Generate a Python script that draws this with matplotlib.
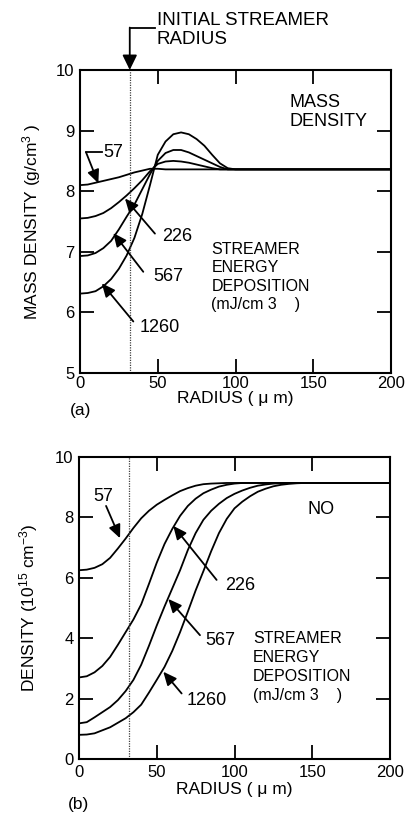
import matplotlib
matplotlib.use("Agg")
import matplotlib.pyplot as plt

plt.rcParams['font.family'] = ['Liberation Sans', 'DejaVu Sans']
plt.rcParams['mathtext.fontset'] = 'custom'
plt.rcParams['mathtext.rm'] = 'Liberation Sans'
plt.rcParams['mathtext.it'] = 'Liberation Sans'

# ---- (a) mass density profiles, radius in micrometres ----
radius_a = [0, 5, 10, 15, 20, 25, 30, 35, 40, 45, 50, 55, 60, 65, 70, 75, 80, 85, 90, 95, 100, 200]
mass_57 = [8.10, 8.11, 8.14, 8.17, 8.20, 8.23, 8.27, 8.31, 8.34, 8.37, 8.37, 8.36, 8.36, 8.36, 8.36,
           8.36, 8.36, 8.36, 8.36, 8.36, 8.36, 8.36]
mass_226 = [7.55, 7.56, 7.59, 7.64, 7.72, 7.82, 7.93, 8.05, 8.18, 8.33, 8.45, 8.49, 8.50, 8.49, 8.47,
            8.44, 8.41, 8.38, 8.36, 8.36, 8.36, 8.36]
mass_567 = [6.93, 6.94, 6.98, 7.06, 7.18, 7.37, 7.58, 7.78, 8.03, 8.28, 8.50, 8.63, 8.68, 8.68, 8.64,
            8.58, 8.52, 8.46, 8.40, 8.36, 8.36, 8.36]
mass_1260 = [6.31, 6.32, 6.35, 6.43, 6.55, 6.72, 6.94, 7.23, 7.62, 8.10, 8.60, 8.82, 8.94, 8.97, 8.94,
             8.86, 8.75, 8.60, 8.46, 8.38, 8.36, 8.36]

# ---- (b) NO density profiles (10^15 cm^-3) ----
radius_b = [0, 5, 10, 15, 20, 25, 30, 35, 40, 45, 50, 55, 60, 65, 70, 75, 80, 85, 90, 95, 100,
            105, 110, 115, 120, 125, 130, 135, 140, 145, 150, 200]
no_57 = [6.25, 6.27, 6.33, 6.45, 6.66, 6.97, 7.30, 7.65, 7.97, 8.22, 8.42, 8.58, 8.73, 8.87, 8.97,
         9.05, 9.10, 9.12, 9.13, 9.14, 9.14, 9.14, 9.14, 9.14, 9.14, 9.14, 9.14, 9.14, 9.14, 9.14,
         9.14, 9.14]
no_226 = [2.70, 2.74, 2.87, 3.08, 3.38, 3.78, 4.20, 4.62, 5.12, 5.80, 6.50, 7.12, 7.62, 8.05, 8.38,
          8.62, 8.80, 8.92, 9.02, 9.08, 9.12, 9.14, 9.14, 9.14, 9.14, 9.14, 9.14, 9.14, 9.14, 9.14,
          9.14, 9.14]
no_567 = [1.18, 1.22, 1.38, 1.55, 1.72, 1.95, 2.25, 2.62, 3.12, 3.75, 4.42, 5.05, 5.65, 6.25, 6.92,
          7.48, 7.92, 8.22, 8.45, 8.64, 8.78, 8.89, 8.98, 9.05, 9.09, 9.12, 9.13, 9.14, 9.14, 9.14,
          9.14, 9.14]
no_1260 = [0.80, 0.81, 0.85, 0.95, 1.05, 1.20, 1.35, 1.55, 1.80, 2.20, 2.62, 3.05, 3.58, 4.20, 4.88,
           5.58, 6.22, 6.88, 7.48, 7.95, 8.30, 8.52, 8.70, 8.85, 8.95, 9.03, 9.08, 9.11, 9.13, 9.14,
           9.14, 9.14]

initial_radius = 32
xticks = [0, 50, 100, 150, 200]
yticks_a = [5, 6, 7, 8, 9, 10]
yticks_b = [0, 2, 4, 6, 8, 10]

W, H = 405, 817
fig = plt.figure(figsize=(W / 100, H / 100), dpi=100)
ax1 = fig.add_axes([80 / W, 1 - 373 / H, 311 / W, 303 / H])
ax2 = fig.add_axes([79 / W, 1 - 759 / H, 311 / W, 302 / H])

line_kw = dict(color='black', lw=1.3)
arrow_kw = dict(arrowstyle='-|>,head_length=0.4,head_width=0.18', color='black', lw=1.3,
                shrinkA=0, shrinkB=0, mutation_scale=20)


def style_axes(ax, yticks, xlabel_y, ylabel_x, xpad):
    ax.set_xlim(0, 200)
    ax.set_ylim(yticks[0], yticks[-1])
    ax.set_xticks(xticks)
    ax.set_yticks(yticks)
    for s in ax.spines.values():
        s.set_linewidth(1.5)
    ax.tick_params(direction='in', length=10, width=1.3, top=True, right=True,
                   labelsize=12, pad=4)
    ax.tick_params(axis='x', pad=xpad)
    ax.set_xlabel('RADIUS ( μ m)', fontsize=12.5)
    ax.xaxis.set_label_coords(0.5, xlabel_y)
    ax.yaxis.set_label_coords(ylabel_x, 0.5)
    ax.axvline(initial_radius, color='0.25', lw=0.9, ls=(0, (1, 1)))


# ---------------- panel (a) ----------------
for series in (mass_57, mass_226, mass_567, mass_1260):
    ax1.plot(radius_a, series, **line_kw)
ax1.set_ylabel('MASS DENSITY (g/cm$^{3}$ )', fontsize=12.5)
style_axes(ax1, yticks_a, -0.06, -0.12, 2)

ax1.text(135, 9.60, 'MASS\nDENSITY', fontsize=13, ha='left', va='top', linespacing=1.12)
ax1.text(84.5, 7.16, 'STREAMER\nENERGY\nDEPOSITION\n(mJ/cm 3    )', fontsize=11.5,
         ha='left', va='top', linespacing=1.28)

# "57" with bent leader
ax1.text(14.8, 8.64, '57', fontsize=13, ha='left', va='center')
ax1.plot([3.9, 14.3], [8.64, 8.64], color='black', lw=1.3)
ax1.annotate('', xy=(11.8, 8.13), xytext=(3.9, 8.64), arrowprops=arrow_kw)

labels_a = [('226', (62.7, 7.25), (48.2, 7.30), (28.9, 7.88)),
            ('567', (56.7, 6.60), (40.7, 6.67), (21.4, 7.31)),
            ('1260', (51.4, 5.75), (34.3, 5.85), (14.0, 6.48))]
for txt, pos, start, tip in labels_a:
    ax1.text(pos[0], pos[1], txt, fontsize=13, ha='center', va='center')
    ax1.annotate('', xy=tip, xytext=start, arrowprops=arrow_kw)

# initial streamer radius marker above the frame
ax1.plot([initial_radius, 48.2], [10.69, 10.69], color='black', lw=1.3, clip_on=False)
ax1.annotate('', xy=(initial_radius, 10.0), xytext=(initial_radius, 10.70),
             arrowprops=dict(arrowstyle='-|>,head_length=0.45,head_width=0.22', color='black',
                             lw=1.3, shrinkA=0, shrinkB=0, mutation_scale=20),
             annotation_clip=False)
ax1.text(49.5, 10.95, 'INITIAL STREAMER\nRADIUS', fontsize=13.5, ha='left', va='top',
         linespacing=1.12, clip_on=False)

fig.text(70 / W, 1 - 410 / H, '(a)', fontsize=12.5, ha='left', va='center')

# ---------------- panel (b) ----------------
for series in (no_57, no_226, no_567, no_1260):
    ax2.plot(radius_b, series, **line_kw)
ax2.set_ylabel('DENSITY (10$^{15}$ cm$^{-3}$)', fontsize=12.5)
style_axes(ax2, yticks_b, -0.075, -0.125, 4)

ax2.text(147, 8.55, 'NO', fontsize=13, ha='left', va='top')
ax2.text(112, 4.25, 'STREAMER\nENERGY\nDEPOSITION\n(mJ/cm 3    )', fontsize=11.5,
         ha='left', va='top', linespacing=1.35)

labels_b = [('57', (15.5, 8.69), (17.4, 8.38), (26.4, 7.31)),
            ('226', (103.5, 5.74), (88.5, 5.93), (60.6, 7.72)),
            ('567', (91.0, 3.91), (77.8, 4.10), (57.4, 5.30)),
            ('1260', (82.1, 1.93), (66.0, 2.17), (54.2, 2.89))]
for txt, pos, start, tip in labels_b:
    ax2.text(pos[0], pos[1], txt, fontsize=13, ha='center', va='center')
    ax2.annotate('', xy=tip, xytext=start, arrowprops=arrow_kw)

fig.text(68 / W, 1 - 804 / H, '(b)', fontsize=12.5, ha='left', va='center')

fig.savefig('out.png', dpi=100)
